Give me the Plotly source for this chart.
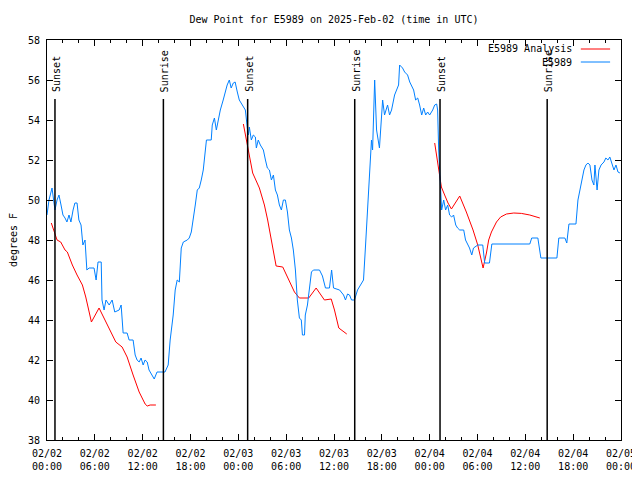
import pandas as pd
import plotly.graph_objects as go

BASE = pd.Timestamp("2025-02-02 00:00")

# Observed dew point (hours after 2025-02-02 00:00 UTC, degrees F)
obs_hours = [0.0, 0.25, 0.63, 0.88, 1.0, 1.26, 1.5, 1.76, 2.0, 2.26, 2.5, 2.76, 3.0, 3.27, 3.5, 3.77, 4.0, 4.27, 4.5, 4.77,
             5.0, 5.28, 5.9, 6.16, 6.4, 6.8, 6.9, 7.16, 7.4, 7.8, 8.17, 8.5, 9.05, 9.3, 9.55, 10.05, 10.3, 10.8, 11.06, 11.3,
             11.56, 11.8, 12.06, 12.3, 12.57, 12.8, 13.45, 13.8, 14.8, 15.2, 15.45, 15.83, 16.08, 16.33, 16.6, 16.84, 17.1, 17.6, 17.84, 18.1,
             18.35, 18.6, 18.85, 19.1, 19.35, 19.6, 20.0, 20.6, 20.73, 21.0, 21.24, 21.5, 21.74, 22.1, 22.37, 22.6, 22.87, 23.1, 23.37, 23.6,
             23.87, 24.12, 24.5, 24.88, 25.13, 25.26, 25.38, 25.63, 25.88, 26.14, 26.26, 26.5, 26.76, 27.14, 27.4, 27.64, 27.9, 28.15, 28.4, 28.65,
             28.9, 29.15, 29.4, 29.65, 29.9, 30.16, 30.4, 30.66, 30.9, 31.16, 31.4, 31.66, 31.9, 32.04, 32.3, 32.4, 32.67, 32.92, 33.17, 33.42,
             34.18, 34.55, 34.93, 35.43, 35.7, 35.94, 36.7, 37.2, 37.44, 37.7, 37.95, 38.2, 38.57, 38.95, 39.33, 39.7, 39.96, 40.2, 40.46, 40.7,
             40.84, 41.1, 41.34, 41.7, 42.1, 42.34, 42.72, 42.97, 43.22, 43.6, 43.85, 44.1, 44.23, 44.6, 44.86, 45.23, 45.5, 45.99, 46.24, 46.5,
             46.74, 47.0, 47.25, 47.5, 47.75, 48.0, 48.38, 48.63, 48.88, 49.0, 49.13, 49.26, 49.38, 49.5, 49.76, 50.0, 50.26, 50.5, 50.76, 51.0,
             51.27, 51.5, 51.77, 52.27, 52.5, 52.78, 53.0, 53.28, 53.5, 54.03, 54.66, 54.9, 55.5, 55.8, 60.56, 60.8, 61.57, 61.95, 63.96, 64.2,
             64.96, 65.2, 65.47, 66.35, 66.6, 66.85, 67.1, 67.35, 67.6, 67.85, 68.1, 68.36, 68.6, 68.73, 69.0, 69.23, 69.5, 69.86, 70.1, 70.36,
             70.6, 70.87, 71.12, 71.37, 71.62, 71.87]
obs_values = [49.25, 50.0, 50.6, 50.0, 49.5, 50.0, 50.25, 49.75, 49.25, 49.1, 48.9, 49.25, 48.9, 49.5, 49.85, 49.85, 49.0, 48.75, 47.75, 48.0,
              46.5, 46.6, 46.6, 46.0, 46.9, 46.9, 45.0, 44.5, 45.0, 44.75, 45.0, 44.4, 44.5, 44.75, 43.35, 43.35, 43.0, 43.0, 42.25, 42.0,
              41.9, 42.1, 41.75, 42.0, 41.9, 41.5, 41.05, 41.4, 41.4, 41.75, 43.0, 44.25, 45.5, 46.0, 45.9, 47.6, 47.9, 48.0, 48.1, 48.4,
              49.0, 49.75, 50.5, 50.6, 51.0, 51.5, 53.0, 53.0, 53.75, 54.1, 53.5, 54.0, 54.5, 55.0, 55.5, 55.75, 56.0, 55.6, 55.85, 55.9,
              55.4, 55.0, 54.75, 54.5, 53.6, 53.25, 53.65, 53.0, 53.25, 53.15, 52.6, 53.0, 52.75, 52.5, 52.0, 51.6, 51.5, 51.0, 51.25, 50.5,
              50.25, 49.75, 49.5, 50.0, 50.0, 49.4, 48.5, 48.1, 47.5, 46.5, 45.0, 44.1, 44.0, 43.25, 43.25, 44.25, 44.75, 45.5, 46.4, 46.5,
              46.5, 46.2, 45.6, 45.6, 46.5, 45.6, 45.5, 45.25, 45.0, 45.3, 45.25, 45.0, 45.0, 45.5, 45.75, 46.0, 47.75, 49.5, 50.75, 53.0,
              52.5, 56.0, 53.5, 52.6, 55.0, 54.25, 54.75, 54.25, 54.5, 55.25, 55.5, 55.75, 56.75, 56.6, 56.4, 56.25, 55.9, 55.5, 55.0, 55.1,
              54.75, 54.25, 54.6, 54.25, 54.4, 54.25, 54.5, 54.75, 54.8, 54.5, 52.5, 51.25, 50.25, 49.5, 50.0, 49.5, 49.75, 49.25, 49.15, 49.25,
              48.75, 48.6, 48.5, 48.5, 48.0, 47.75, 47.6, 47.25, 47.6, 47.75, 47.75, 46.85, 46.85, 47.8, 47.8, 48.1, 48.1, 47.1, 47.1, 48.1,
              48.1, 47.85, 48.8, 48.8, 50.0, 50.5, 51.0, 51.5, 51.75, 51.85, 51.75, 51.0, 50.75, 51.75, 50.5, 51.5, 51.75, 51.9, 52.1, 52.0,
              52.15, 51.75, 51.5, 51.75, 51.4, 51.35]

# Analysis dew point (None separates the three analysis segments)
ana_hours = [0.54, 0.88, 1.26, 1.72, 2.26, 2.55, 3.18, 3.77, 4.44, 4.86, 5.57, 6.53, 7.54, 8.63, 9.42, 10.05, 10.8, 11.56, 12.31, 12.57,
             12.94, 13.66, None,
             24.63, 25.17, 25.38, 25.8, 26.64, 27.05, 27.27, 27.68, 28.1, 28.52, 28.74, 29.57, 30.2, 31.04, 31.66, 32.83, 33.76, 34.8,
             35.65, 36.06, 36.6, 37.6, None,
             48.63, 49.04, 49.26, 49.47, 49.88, 50.3, 50.73, 51.77, 52.6, 53.44, 54.03, 54.7, 55.12, 55.4, 55.75, 56.38, 56.9, 57.63,
             58.55, 59.5, 60.56, 61.82]
ana_values = [48.85, 48.4, 48.0, 47.9, 47.5, 47.4, 46.75, 46.25, 45.75, 45.15, 43.9, 44.6, 43.75, 42.9, 42.65, 42.15, 41.25, 40.4, 39.8, 39.7,
              39.75, 39.75, None,
              53.8, 52.65, 52.15, 51.35, 50.6, 50.0, 49.75, 49.0, 48.0, 47.0, 46.7, 46.65, 46.1, 45.4, 45.1, 45.1, 45.6, 45.0,
              45.05, 44.5, 43.6, 43.3, None,
              52.85, 51.85, 51.35, 50.65, 50.25, 49.85, 49.55, 50.2, 49.4, 48.5, 47.75, 46.6, 47.35, 48.0, 48.4, 48.9, 49.15, 49.3,
              49.35, 49.33, 49.25, 49.1]

sun_labels = ["Sunset", "Sunrise", "Sunset", "Sunrise", "Sunset", "Sunrise"]
sun_hours = [1.0, 14.6, 25.17, 38.6, 49.3, 62.74]
sun_line_top = 55.05

y_ticks = list(range(38, 59, 2))
series_names = ["E5989 Analysis", "E5989"]
series_colors = ["#ff0000", "#0080ff"]


def to_time(hours):
    return [None if h is None else BASE + pd.Timedelta(hours=h) for h in hours]


FONT = "DejaVu Sans Mono"
fig = go.Figure()
fig.add_trace(go.Scatter(x=to_time(ana_hours), y=ana_values, mode="lines", name=series_names[0],
                         line=dict(color=series_colors[0], width=1), connectgaps=False))
fig.add_trace(go.Scatter(x=to_time(obs_hours), y=obs_values, mode="lines", name=series_names[1],
                         line=dict(color=series_colors[1], width=1)))

for lbl, h in zip(sun_labels, sun_hours):
    t = BASE + pd.Timedelta(hours=h)
    fig.add_shape(type="line", xref="x", yref="y", x0=t, x1=t, y0=38, y1=sun_line_top,
                  line=dict(color="black", width=1.5))
    fig.add_annotation(x=t, y=sun_line_top + 0.25, xref="x", yref="y", text=lbl, showarrow=False,
                       textangle=-90, xanchor="center", yanchor="bottom", xshift=1,
                       font=dict(family=FONT, size=10, color="black"))

# gnuplot-style legend: text on the left, line sample on the right
leg_y = [0.9775, 0.945]
for name, color, ly in zip(series_names, series_colors, leg_y):
    fig.add_annotation(x=0.918, y=ly, xref="paper", yref="paper", text=name, showarrow=False,
                       xanchor="right", yanchor="middle", font=dict(family=FONT, size=10, color="black"))
    fig.add_shape(type="line", xref="paper", yref="paper", x0=0.930, x1=0.981, y0=ly, y1=ly,
                  line=dict(color=color, width=1))

# figure sized to compensate for the 8px default page margin
fig.update_layout(
    width=632, height=472,
    margin=dict(l=39, r=19, t=32, b=40),
    paper_bgcolor="white", plot_bgcolor="white",
    showlegend=False,
    font=dict(family=FONT, size=10, color="black"),
    title=dict(text="Dew Point for E5989 on 2025-Feb-02 (time in UTC)", x=0.5, xref="paper",
               y=1 - 11 / 472, yref="container", yanchor="middle", font=dict(family=FONT, size=10)),
)
fig.update_xaxes(
    type="date",
    range=[BASE, BASE + pd.Timedelta(hours=72)],
    dtick=6 * 3600 * 1000, tick0=BASE,
    tickformat="%m/%d<br>%H:%M",
    ticks="inside", ticklen=6, tickcolor="black", tickwidth=1,
    minor=dict(dtick=2 * 3600 * 1000, ticks="inside", ticklen=3, tickcolor="black", tick0=BASE),
    showline=True, linecolor="black", linewidth=1, mirror="ticks",
    showgrid=False, zeroline=False, automargin=False,
    ticklabelstandoff=4,
    tickfont=dict(family=FONT, size=10),
)
fig.update_yaxes(
    range=[38, 58], tickvals=y_ticks,
    ticks="inside", ticklen=6, tickcolor="black", tickwidth=1,
    showline=True, linecolor="black", linewidth=1, mirror="ticks",
    showgrid=False, zeroline=False, automargin=False,
    ticklabelstandoff=4,
    title=dict(text="degrees F", font=dict(family=FONT, size=10), standoff=12),
    tickfont=dict(family=FONT, size=10),
)

fig.write_html("out.html")
